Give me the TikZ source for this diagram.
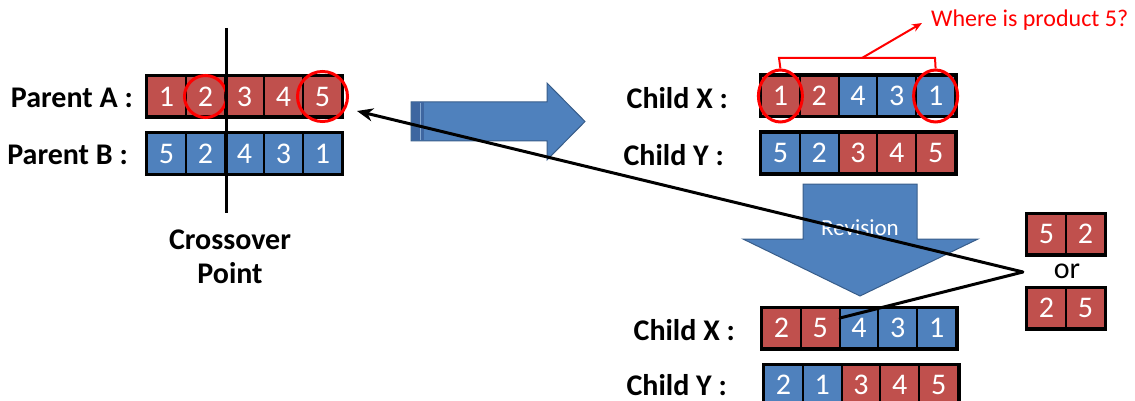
\documentclass[tikz,border=0pt]{standalone}
\usepackage{fontspec}
\setmainfont{Carlito}
\usetikzlibrary{arrows.meta,shapes.geometric}
\definecolor{cR}{HTML}{C0504D}
\definecolor{cB}{HTML}{4F81BD}
\definecolor{cBd}{HTML}{385D8A}
\definecolor{cBs}{HTML}{3E66A0}
\tikzset{
  cell/.style={draw=black, line width=2pt, minimum width=38.8pt, minimum height=40pt, inner sep=0pt, text=white, font=\fontsize{30}{34}\selectfont},
  lbl/.style={anchor=east, inner sep=0pt, font=\bfseries\fontsize{30}{34}\selectfont},
  frame/.style={draw=black, line width=3pt},
  bigarrow/.style={fill=cB, draw=cBd, line width=1pt},
  redmark/.style={draw=red, line width=3pt},
  pointer/.style={draw=black, line width=3pt},
}
\begin{document}
\begin{tikzpicture}[x=1pt,y=-1pt]
\useasboundingbox (0,0) rectangle (1135,401);

% big right arrow
\path[bigarrow] (411,102) -- (547,102) -- (547,83) -- (585,121.5) -- (547,160) -- (547,141) -- (411,141) -- cycle;
\fill[cBs] (411.5,102.5) rectangle (424,140.5);
\draw[cB!70!white, line width=1pt] (420,103) -- (420,140);

% revision arrow
\path[bigarrow] (803,184) -- (917,184) -- (917,239) -- (978,239) -- (860,296) -- (743,239) -- (803,239) -- cycle;
\node[text=white, font=\fontsize{23}{26}\selectfont, inner sep=0pt] (rev) at (860,228) {Revision};

% Parent A
\node[lbl] (lpa) at (133,98) {Parent A :};
\foreach \v [count=\i] in {1,2,3,4,5}
  \node[cell, fill=cR] (pa\i) at ({147+19.5+39*(\i-1)},96.5) {\v};
\draw[frame] (pa1.north west) rectangle (pa5.south east);
% Parent B
\node[lbl] (lpb) at (128,155) {Parent B :};
\foreach \v [count=\i] in {5,2,4,3,1}
  \node[cell, fill=cB] (pb\i) at ({147+19.5+39*(\i-1)},153.5) {\v};
\draw[frame] (pb1.north west) rectangle (pb5.south east);

% circles on parent A
\node[redmark, circle, minimum size=42pt, inner sep=0pt] (ca2) at (pa2) {};
\node[redmark, circle, minimum size=50pt, inner sep=0pt] (ca5) at (pa5) {};

% crossover line
\coordinate (xtop) at (226,28);
\coordinate (xbot) at (226,213);
\draw[line width=3pt] (xtop) -- (xbot);
\node[align=center, inner sep=0pt, font=\bfseries\fontsize{30}{34}\selectfont] (cross) at (230,257) {Crossover\\Point};

% Child X (top)
\node[lbl] (lcx) at (728,98) {Child X :};
\foreach \v/\c [count=\i] in {1/cR,2/cR,4/cB,3/cB,1/cB}
  \node[cell, fill=\c] (cx\i) at ({761+19.4+38.8*(\i-1)},96) {\v};
\draw[frame] (cx1.north west) rectangle (cx5.south east);
% Child Y (top)
\node[lbl] (lcy) at (724,155) {Child Y :};
\foreach \v/\c [count=\i] in {5/cB,2/cB,3/cR,4/cR,5/cR}
  \node[cell, fill=\c] (cy\i) at ({761+19.4+38.8*(\i-1)},153) {\v};
\draw[frame] (cy1.north west) rectangle (cy5.south east);

% red ellipses and bracket
\node[redmark, ellipse, minimum width=44pt, minimum height=52pt, inner sep=0pt] (ex1) at (cx1) {};
\node[redmark, ellipse, minimum width=44pt, minimum height=52pt, inner sep=0pt] (ex5) at (cx5) {};
\coordinate (bl) at (779,58);
\coordinate (br) at (935,58);
\coordinate (bm) at (862,58);
\draw[red, line width=2pt] (ex1.north) -- (bl) -- (br) -- (ex5.north);
\node[anchor=west, text=red, inner sep=0pt, font=\fontsize{24}{27}\selectfont] (q) at (931,20) {Where is product 5?};
\coordinate (qa) at (922,23);
\draw[red, line width=2pt, -{Stealth[length=10pt,width=8pt]}] (bm) -- (qa);

% Child X (bottom)
\node[lbl] (lcx2) at (735,330) {Child X :};
\foreach \v/\c [count=\i] in {2/cR,5/cR,4/cB,3/cB,1/cB}
  \node[cell, fill=\c] (dx\i) at ({762+19.4+38.8*(\i-1)},328) {\v};
\draw[frame] (dx1.north west) rectangle (dx5.south east);
% Child Y (bottom)
\node[lbl] (lcy2) at (727,385) {Child Y :};
\foreach \v/\c [count=\i] in {2/cB,1/cB,3/cR,4/cR,5/cR}
  \node[cell, fill=\c] (dy\i) at ({764+19.4+38.8*(\i-1)},385) {\v};
\draw[frame] (dy1.north west) rectangle (dy5.south east);

% options 52 / 25
\node[cell, fill=cR] (o1) at (1046.5,234) {5};
\node[cell, fill=cR] (o2) at (1085.5,234) {2};
\draw[frame] (o1.north west) rectangle (o2.south east);
\node[inner sep=0pt, font=\fontsize{30}{34}\selectfont] (or) at (1067,271) {or};
\node[cell, fill=cR] (p1) at (1046.5,308) {2};
\node[cell, fill=cR] (p2) at (1085.5,308) {5};
\draw[frame] (p1.north west) rectangle (p2.south east);

% pointer lines
\coordinate (v) at (1023,272);
\coordinate (tipA) at (357,111);
\coordinate (endX) at (840,318);
\draw[pointer, -{Stealth[length=16pt,width=13pt,inset=5pt]}] (v) -- (tipA);
\draw[pointer, line cap=round] (v) -- (endX);
\end{tikzpicture}
\end{document}
